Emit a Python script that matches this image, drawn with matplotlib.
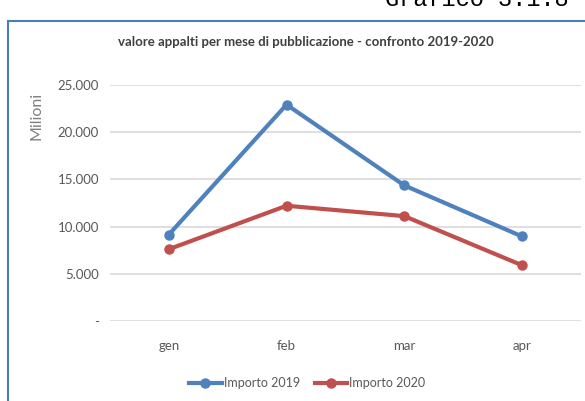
import matplotlib
matplotlib.use('Agg')
import matplotlib.pyplot as plt
from matplotlib.patches import Rectangle
from matplotlib.ticker import FuncFormatter

plt.rcParams['font.family'] = ['Lato', 'DejaVu Sans']

mesi = ['gen', 'feb', 'mar', 'apr']
importo_2019 = [9150, 22900, 14350, 8950]
importo_2020 = [7600, 12200, 11100, 5900]
yticks = [0, 5000, 10000, 15000, 20000, 25000]

blu = '#4f81bd'
rosso = '#c0504d'
grigio = '#595959'

fig = plt.figure(figsize=(5.85, 4.01), dpi=100)
ax = fig.add_axes([0.188, 0.1995, 0.805, 0.589])

x = range(len(mesi))
ax.plot(x, importo_2019, color=blu, lw=3, marker='o', ms=6.5, label='Importo 2019')
ax.plot(x, importo_2020, color=rosso, lw=3, marker='o', ms=6.5, label='Importo 2020')

ax.set_xlim(-0.5, 3.5)
ax.set_ylim(0, 25000)
ax.set_yticks(yticks)
ax.yaxis.set_major_formatter(FuncFormatter(
    lambda v, p: '-' if v == 0 else f'{int(v):,}'.replace(',', '.')))
ax.set_xticks(list(x))
ax.set_xticklabels(mesi)
ax.grid(axis='y', color='#d9d9d9', lw=1.2)
ax.set_axisbelow(True)
for s in ax.spines.values():
    s.set_visible(False)
ax.tick_params(length=0, labelsize=9.5, colors=grigio, pad=8)
ax.tick_params(axis='x', pad=14)
ax.set_ylabel('Milioni', fontsize=11.5, color='#7f7f7f')
ax.yaxis.set_label_coords(-0.142, 0.868)

fig.text(0.523, 1 - 42 / 401, 'valore appalti per mese di pubblicazione - confronto 2019-2020',
         ha='center', va='center', fontsize=9.5, fontweight='bold', color='#404040')

fig.legend(loc='center', bbox_to_anchor=(0.525, 1 - 383 / 401), ncol=2, frameon=False,
           fontsize=9, handlelength=2.6, columnspacing=1.2, handletextpad=0.15,
           labelcolor=grigio)

# cornice del grafico
fig.patches.append(Rectangle((8 / 585, -0.2), 1.2, 1 - 21 / 401 + 0.2,
                             transform=fig.transFigure, fill=False,
                             edgecolor='#4a7ebb', lw=1.5))

fig.text(385 / 585, 1 - 6 / 401, 'Grafico 3.1.8', ha='left', va='baseline',
         fontsize=17, family='Liberation Mono', color='black')

fig.savefig('out.png', dpi=100)
